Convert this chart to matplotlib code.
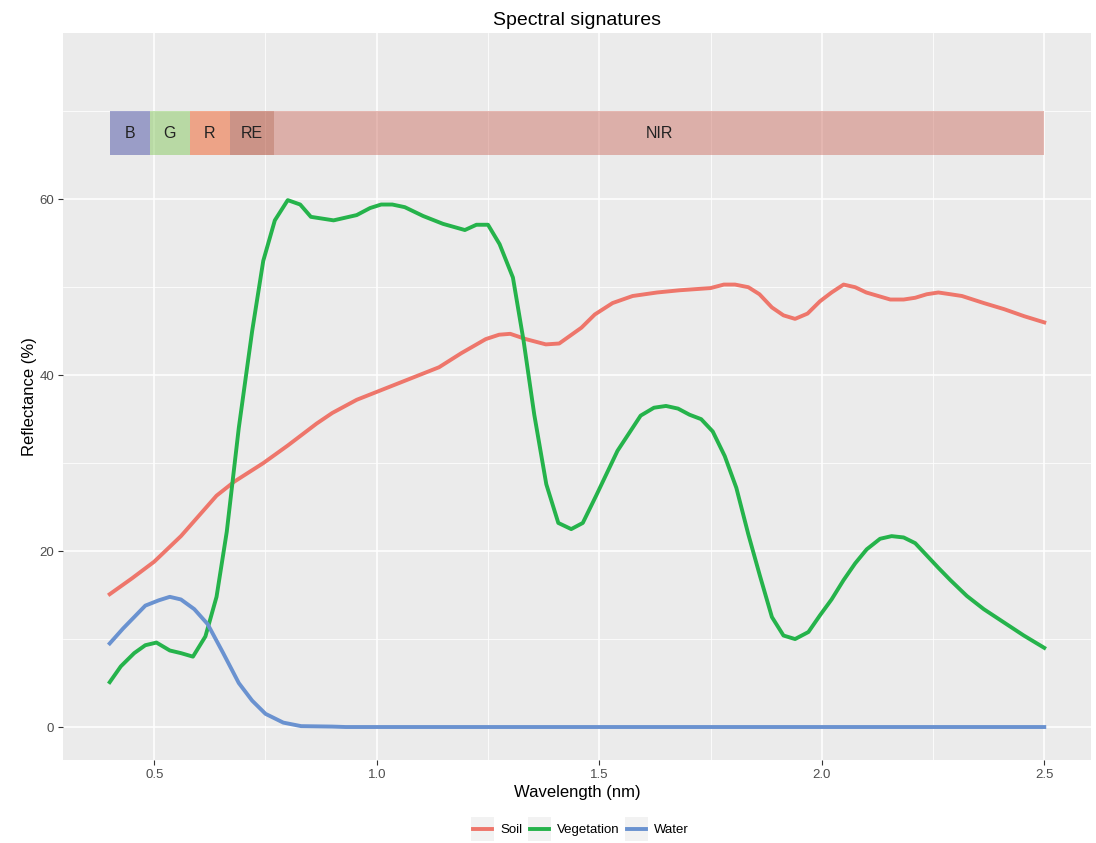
import matplotlib
matplotlib.use("Agg")
import matplotlib.pyplot as plt
from matplotlib.patches import Rectangle
from matplotlib.lines import Line2D

plt.rcParams['font.family'] = ['Liberation Sans', 'DejaVu Sans']

# spectral curves (wavelength, reflectance %)
soil_wl = [0.40, 0.45, 0.50, 0.56, 0.60, 0.64, 0.68, 0.745, 0.80, 0.865, 0.90,
           0.955, 1.00, 1.05, 1.09, 1.14, 1.19, 1.245, 1.275, 1.30, 1.335, 1.38,
           1.41, 1.46, 1.49, 1.53, 1.575, 1.63, 1.68, 1.75, 1.78, 1.805, 1.835,
           1.86, 1.888, 1.914, 1.94, 1.968, 1.996, 2.022, 2.049, 2.075, 2.10,
           2.127, 2.154, 2.184, 2.21, 2.236, 2.262, 2.289, 2.315, 2.364, 2.41,
           2.455, 2.50]
soil_refl = [15.1, 16.9, 18.8, 21.7, 24.0, 26.3, 27.9, 30.0, 32.0, 34.5, 35.7,
             37.2, 38.1, 39.1, 39.9, 40.9, 42.5, 44.1, 44.6, 44.7, 44.1, 43.5,
             43.6, 45.4, 46.9, 48.2, 49.0, 49.4, 49.65, 49.9, 50.3, 50.3, 50.0,
             49.2, 47.7, 46.8, 46.4, 47.0, 48.4, 49.4, 50.3, 50.0, 49.4,
             49.0, 48.6, 48.6, 48.8, 49.2, 49.4, 49.2, 49.0, 48.2, 47.5,
             46.7, 46.0]

veg_wl = [0.40, 0.425, 0.455, 0.48, 0.505, 0.535, 0.56, 0.587, 0.615, 0.64,
          0.663, 0.69, 0.72, 0.745, 0.771, 0.80, 0.828, 0.852, 0.903, 0.955,
          0.985, 1.01, 1.035, 1.063, 1.104, 1.149, 1.198, 1.224, 1.25, 1.276,
          1.306, 1.33, 1.354, 1.381, 1.408, 1.437, 1.463, 1.493, 1.541, 1.593,
          1.623, 1.65, 1.677, 1.703, 1.729, 1.755, 1.782, 1.808, 1.835, 1.861,
          1.888, 1.914, 1.94, 1.97, 1.996, 2.022, 2.049, 2.075, 2.101, 2.131,
          2.157, 2.184, 2.21, 2.236, 2.262, 2.289, 2.326, 2.364, 2.409, 2.454,
          2.50]
veg_refl = [5.1, 6.9, 8.4, 9.3, 9.6, 8.7, 8.4, 8.0, 10.3, 14.8,
            22.2, 34.0, 45.0, 53.0, 57.6, 59.9, 59.4, 58.0, 57.6, 58.2,
            59.0, 59.4, 59.4, 59.1, 58.1, 57.2, 56.5, 57.1, 57.1, 54.9,
            51.1, 43.9, 35.5, 27.6, 23.2, 22.5, 23.2, 26.3, 31.4, 35.4,
            36.3, 36.5, 36.2, 35.5, 35.0, 33.6, 30.8, 27.2, 21.9, 17.2,
            12.5, 10.4, 10.0, 10.8, 12.7, 14.5, 16.7, 18.6, 20.2, 21.4,
            21.7, 21.55, 20.9, 19.5, 18.1, 16.7, 14.9, 13.4, 11.9, 10.4,
            9.0]

water_wl = [0.40, 0.43, 0.455, 0.48, 0.51, 0.535, 0.56, 0.59, 0.62, 0.655,
            0.69, 0.72, 0.75, 0.79, 0.83, 0.90, 0.93, 2.50]
water_refl = [9.5, 11.2, 12.5, 13.8, 14.4, 14.8, 14.5, 13.4, 11.7, 8.4,
              5.0, 3.0, 1.5, 0.5, 0.1, 0.05, 0.0, 0.0]

# spectral bands shown as a strip above the curves
band_names = ['B', 'G', 'R', 'RE', 'NIR']
band_start = [0.40, 0.49, 0.58, 0.67, 0.77]
band_end = [0.49, 0.58, 0.67, 0.77, 2.50]
band_colors = ['#4B51A5', '#87C95F', '#EF5D25', '#AD3D25', '#CF7569']

series_names = ['Soil', 'Vegetation', 'Water']
series_colors = ['#EE766B', '#25B34B', '#6A92D0']


class KeyHandler:
    # ggplot style legend key: grey square with the line across it
    def legend_artist(self, legend, orig_handle, fontsize, handlebox):
        x0, y0 = -handlebox.xdescent, -handlebox.ydescent
        w, h = handlebox.width, handlebox.height
        yc = y0 + h / 2
        tr = handlebox.get_transform()
        rect = Rectangle((x0, yc - w / 2), w, w, facecolor='#F2F2F2',
                         edgecolor='none', transform=tr)
        line = Line2D([x0 + 1.5, x0 + w - 1.5], [yc, yc],
                      color=orig_handle.get_color(), lw=2.8, transform=tr)
        handlebox.add_artist(rect)
        handlebox.add_artist(line)
        return line


fig = plt.figure(figsize=(10.96, 8.43), dpi=100)
ax = fig.add_axes([63 / 1096, 1 - 760 / 843, 1028 / 1096, 727 / 843])
ax.set_facecolor('#EBEBEB')
for s in ax.spines.values():
    s.set_visible(False)

ax.set_xlim(0.295, 2.605)
ax.set_ylim(-3.75, 78.9)
ax.set_xticks([0.5, 1.0, 1.5, 2.0, 2.5])
ax.set_xticklabels(['0.5', '1.0', '1.5', '2.0', '2.5'])
ax.set_yticks([0, 20, 40, 60])
ax.set_xticks([0.75, 1.25, 1.75, 2.25], minor=True)
ax.set_yticks([10, 30, 50, 70], minor=True)
ax.grid(which='major', color='white', lw=1.1)
ax.grid(which='minor', color='white', lw=0.55)
ax.set_axisbelow(True)
ax.tick_params(which='major', length=3.8, width=0.8, color='#333333',
               labelcolor='#4D4D4D', labelsize=9.5, pad=2.5)
ax.tick_params(which='minor', length=0)

for name, x0, x1, c in zip(band_names, band_start, band_end, band_colors):
    ax.axvspan(x0, x1, ymin=(65 + 3.75) / 82.65, ymax=(70 + 3.75) / 82.65,
               color=c, alpha=0.5, lw=0, zorder=1)
    ax.text((x0 + x1) / 2, 67.5, name, ha='center', va='center',
            fontsize=11.5, color='#222222', zorder=3)

lines = []
curves = [(soil_wl, soil_refl), (veg_wl, veg_refl), (water_wl, water_refl)]
for (wl, refl), c in zip(curves, series_colors):
    ln, = ax.plot(wl, refl, color=c, lw=2.8, solid_joinstyle='round', zorder=2)
    lines.append(ln)

ax.set_title('Spectral signatures', fontsize=14, pad=6)
ax.set_xlabel('Wavelength (nm)', fontsize=12, labelpad=3)
ax.set_ylabel('Reflectance (%)', fontsize=12, labelpad=2)

fig.legend(lines, series_names, loc='center',
           bbox_to_anchor=(580 / 1096, 1 - 829 / 843),
           ncol=3, frameon=False, fontsize=9.5, handlelength=1.75, handleheight=1.6,
           handletextpad=0.42, columnspacing=0.45, borderpad=0, borderaxespad=0,
           handler_map={Line2D: KeyHandler()})

fig.savefig('out.png', dpi=100)
